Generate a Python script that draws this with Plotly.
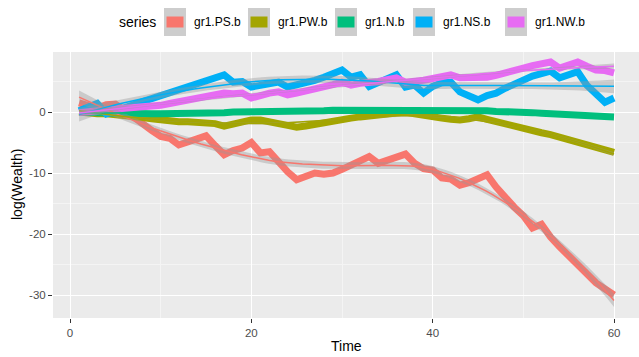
import numpy as np
import plotly.graph_objects as go

time = list(range(1, 61))
series_names = ["gr1.PS.b", "gr1.PW.b", "gr1.N.b", "gr1.NS.b", "gr1.NW.b"]

ps = [1.5, 1.0, 0.6, 1.2, 1.3, 0.3, -0.8, -2.2, -3.0, -4.0,
      -4.3, -5.4, -4.9, -4.2, -3.9, -5.5, -7.0, -6.3, -5.9, -5.0,
      -6.7, -6.5, -8.2, -9.8, -11.1, -10.5, -10.0, -10.2, -10.0, -9.4,
      -8.8, -8.0, -7.3, -8.4, -7.9, -7.5, -6.9, -8.4, -9.3, -9.5,
      -10.8, -11.0, -12.0, -11.6, -11.0, -10.3, -12.3, -14.1, -15.6, -17.0,
      -19.0, -18.4, -20.5, -22.1, -23.5, -24.8, -26.5, -28.0, -29.0, -30.0]
pw = [0.0, -0.2, -0.3, -0.3, -0.4, -0.5, -0.7, -0.9, -1.1, -1.3,
      -1.4, -1.6, -1.6, -1.7, -1.8, -1.9, -2.3, -1.9, -1.6, -1.3,
      -1.3, -1.5, -1.9, -2.2, -2.5, -2.3, -2.0, -1.8, -1.5, -1.2,
      -1.0, -0.8, -0.6, -0.4, -0.3, -0.1, 0.0, -0.3, -0.6, -0.8,
      -1.0, -1.2, -1.3, -1.1, -0.8, -1.2, -1.6, -2.0, -2.4, -2.7,
      -3.0, -3.4, -3.7, -4.1, -4.6, -5.1, -5.5, -5.9, -6.2, -6.6]
nn = [0.0, -0.1, -0.1, -0.2, -0.2, -0.2, -0.3, -0.3, -0.3, -0.3,
      -0.3, -0.2, -0.2, -0.2, -0.2, -0.1, -0.1, 0.0, 0.0, 0.0,
      0.0, 0.1, 0.1, 0.1, 0.1, 0.2, 0.2, 0.2, 0.3, 0.3,
      0.3, 0.3, 0.3, 0.4, 0.4, 0.4, 0.4, 0.3, 0.3, 0.3,
      0.3, 0.3, 0.3, 0.2, 0.2, 0.2, 0.1, 0.1, 0.0, -0.1,
      -0.1, -0.2, -0.3, -0.3, -0.4, -0.5, -0.5, -0.6, -0.7, -0.8]
ns = [0.2, 0.8, 1.4, -0.3, 0.3, 0.8, 1.2, 1.7, 2.2, 2.6,
      3.0, 3.4, 3.9, 4.4, 5.0, 5.6, 6.1, 4.9, 5.0, 4.1,
      4.4, 4.7, 4.9, 4.1, 4.4, 4.8, 5.2, 5.7, 6.3, 6.9,
      5.7, 6.1, 4.2, 4.9, 5.5, 6.1, 4.1, 4.4, 3.1, 4.2,
      4.8, 4.9, 3.3, 2.6, 2.0, 2.7, 3.1, 3.9, 4.6, 5.4,
      5.9, 6.3, 6.7, 5.6, 6.1, 6.6, 4.4, 2.8, 1.6, 2.3]
nw = [-0.1, 0.1, 0.3, 0.4, 0.5, 0.6, 0.7, 0.8, 0.9, 1.1,
      1.4, 1.7, 2.0, 2.3, 2.6, 2.9, 3.1, 3.0, 3.1, 2.3,
      2.8, 3.1, 3.3, 2.8, 3.1, 3.4, 3.8, 4.2, 4.5, 4.9,
      4.4, 4.7, 4.8, 5.0, 5.3, 5.6, 4.9, 5.0, 5.2, 5.5,
      5.8, 6.1, 5.6, 5.6, 5.7, 5.7, 6.0, 6.5, 6.9, 7.2,
      7.6, 8.0, 8.2, 7.2, 7.7, 8.2, 7.5, 6.9, 6.8, 6.4]

series_values = [ps, pw, nn, ns, nw]
colors = ["#F8766D", "#A3A500", "#00BF7D", "#00B0F6", "#E76BF3"]

x_ticks = [0, 20, 40, 60]
y_ticks = [-30, -20, -10, 0]


def loess(x, y, xs, span=0.75):
    x = np.asarray(x, float)
    y = np.asarray(y, float)
    n = len(x)
    q = int(np.floor(n * span))

    def row(x0):
        d = np.abs(x - x0)
        h = np.sort(d)[q - 1] * 1.0001
        u = np.clip(d / h, 0, 1)
        w = (1 - u ** 3) ** 3
        X = np.column_stack([np.ones(n), x - x0, (x - x0) ** 2])
        XtW = X.T * w
        return np.linalg.solve(XtW @ X, XtW)[0]

    L = np.array([row(v) for v in x])
    res = y - L @ y
    IL = np.eye(n) - L
    M = IL.T @ IL
    d1 = np.trace(M)
    sigma = np.sqrt(np.sum(res ** 2) / d1)
    Lg = np.array([row(v) for v in xs])
    fit = Lg @ y
    se = sigma * np.sqrt(np.sum(Lg ** 2, axis=1))
    tq = 2.01
    return fit, fit - tq * se, fit + tq * se


fig = go.Figure()

for name, vals, col in zip(series_names, series_values, colors):
    fig.add_trace(go.Scatter(x=time, y=vals, mode="lines", name=name,
                             line=dict(color=col, width=7), showlegend=False,
                             hoverinfo="skip"))

grid = np.linspace(min(time), max(time), 80)
for name, vals, col in zip(series_names, series_values, colors):
    fit, lo, hi = loess(time, vals, grid)
    fig.add_trace(go.Scatter(x=np.concatenate([grid, grid[::-1]]),
                             y=np.concatenate([hi, lo[::-1]]),
                             fill="toself", fillcolor="rgba(153,153,153,0.4)",
                             line=dict(width=0), mode="lines",
                             showlegend=False, hoverinfo="skip"))
    fig.add_trace(go.Scatter(x=grid, y=fit, mode="lines",
                             line=dict(color=col, width=1.5),
                             showlegend=False, hoverinfo="skip"))

W, H = 639, 357
L_, R_, T_, B_ = 53, 639, 52, 318


def px(x):
    return (x - L_) / (R_ - L_)


def py(y):
    return (B_ - y) / (B_ - T_)


FONT = "Liberation Sans, Arial, sans-serif"
shapes = []
annotations = []

# legend
annotations.append(dict(text="series", x=px(117), y=py(22), xref="paper", yref="paper",
                        xanchor="left", yanchor="middle", showarrow=False,
                        font=dict(family=FONT, size=14, color="#000000")))
key_left = [164, 248, 335, 413, 505]
key_w = 22
for name, col, kl in zip(series_names, colors, key_left):
    shapes.append(dict(type="rect", xref="paper", yref="paper",
                       x0=px(kl), x1=px(kl + key_w), y0=py(36), y1=py(8),
                       fillcolor="#CDCDCD", line=dict(width=0), layer="above"))
    shapes.append(dict(type="rect", xref="paper", yref="paper",
                       x0=px(kl + 2.5), x1=px(kl + key_w - 2.5), y0=py(27.5), y1=py(16.5),
                       fillcolor=col, line=dict(width=0), layer="above"))
    annotations.append(dict(text=name, x=px(kl + key_w + 6), y=py(22), xref="paper", yref="paper",
                            xanchor="left", yanchor="middle", showarrow=False,
                            font=dict(family=FONT, size=12, color="#000000")))

annotations.append(dict(text="Time", x=px(346), y=py(346), xref="paper", yref="paper",
                        xanchor="center", yanchor="middle", showarrow=False,
                        font=dict(family=FONT, size=14, color="#000000")))
annotations.append(dict(text="log(Wealth)", x=px(17), y=py(185), xref="paper", yref="paper",
                        xanchor="center", yanchor="middle", showarrow=False, textangle=-90,
                        font=dict(family=FONT, size=14, color="#000000")))

x0v = -1.875
x1v = x0v + (R_ - L_) / 9.067
y1v = 9.84
y0v = y1v - (B_ - T_) / 6.1

axis_common = dict(showline=False, zeroline=False, ticks="outside", ticklen=4,
                   tickcolor="#333333", tickwidth=1,
                   tickfont=dict(family=FONT, size=11.5, color="#4D4D4D"),
                   gridcolor="#FFFFFF", gridwidth=1.1, showgrid=True)

fig.update_layout(
    width=W, height=H,
    margin=dict(l=L_, r=W - R_, t=T_, b=H - B_, pad=0),
    paper_bgcolor="#FFFFFF", plot_bgcolor="#EBEBEB",
    showlegend=False,
    xaxis=dict(range=[x0v, x1v], tickmode="array", tickvals=x_ticks,
               ticktext=[str(v) for v in x_ticks],
               minor=dict(tickmode="array", tickvals=[10, 30, 50], showgrid=True,
                          gridcolor="#F4F4F4", gridwidth=0.6, ticks=""),
               **axis_common),
    yaxis=dict(range=[y0v, y1v], tickmode="array", tickvals=y_ticks,
               ticktext=[str(v) for v in y_ticks],
               minor=dict(tickmode="array", tickvals=[-25, -15, -5, 5], showgrid=True,
                          gridcolor="#F4F4F4", gridwidth=0.6, ticks=""),
               **axis_common),
    shapes=shapes, annotations=annotations,
    font=dict(family=FONT),
)

fig.write_html("out.html")
